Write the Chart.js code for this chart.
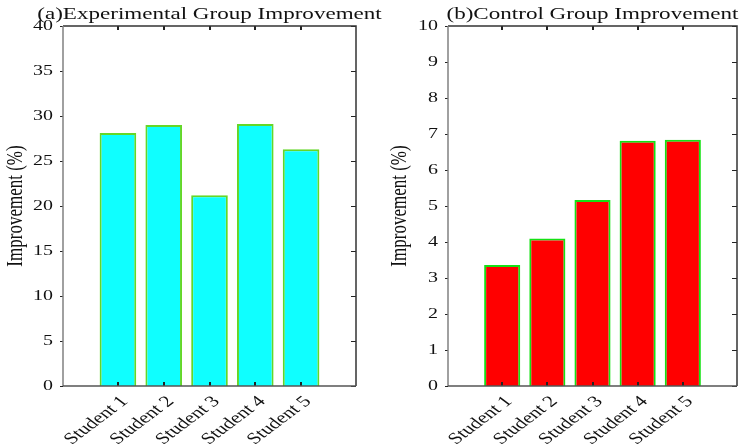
<!DOCTYPE html>
<html>
<head>
<meta charset="utf-8">
<script src="https://cdn.jsdelivr.net/npm/chart.js@4/dist/chart.umd.min.js"></script>
<style>
  html, body { margin: 0; padding: 0; background: #fff; overflow: hidden; width: 739px; height: 447px; }
  canvas { position: absolute; top: 0; }
  #expChart { left: 0; }
  #ctrlChart { left: 370px; }
</style>
</head>
<body>
<canvas id="expChart" width="400" height="447"></canvas>
<canvas id="ctrlChart" width="372" height="447"></canvas>
<script>
// Data
const categories = ['Student 1', 'Student 2', 'Student 3', 'Student 4', 'Student 5'];
const experimentalValues = [28.1, 29.0, 21.2, 29.1, 26.3];
const controlValues = [3.36, 4.1, 5.17, 6.81, 6.84];
const experimentalTitle = '(a)Experimental Group Improvement';
const controlTitle = '(b)Control Group Improvement';
const yAxisTitle = 'Improvement (%)';

const SERIF = '"Liberation Serif", "Times New Roman", serif';
const SX = 1.33; // the reference text is stretched horizontally

// Draws the MATLAB style box, inward ticks and all the text
const panelDecor = {
    id: 'panelDecor',
    afterDraw(chart, args, opts) {
        const ctx = chart.ctx;
        const a = chart.chartArea;
        const xs = chart.scales.x;
        const ys = chart.scales.y;
        ctx.save();

        // ticks along x (top and bottom, pointing inward)
        ctx.strokeStyle = '#222';
        ctx.lineWidth = 2;
        xs.ticks.forEach(t => {
            const px = Math.round(xs.getPixelForValue(t.value));
            ctx.beginPath();
            ctx.moveTo(px, a.bottom); ctx.lineTo(px, a.bottom - 4);
            ctx.moveTo(px, a.top); ctx.lineTo(px, a.top + 4);
            ctx.stroke();
        });
        // ticks along y (right inward, left outward)
        ctx.lineWidth = 1;
        ys.ticks.forEach(t => {
            const py = Math.round(ys.getPixelForValue(t.value)) + 0.5;
            ctx.beginPath();
            ctx.moveTo(a.right, py); ctx.lineTo(a.right - 5, py);
            ctx.moveTo(a.left, py); ctx.lineTo(a.left - 3, py);
            ctx.stroke();
        });

        // box
        ctx.lineWidth = 1.5;
        ctx.strokeStyle = '#333';
        ctx.beginPath();
        ctx.moveTo(a.left, a.top); ctx.lineTo(a.right, a.top); ctx.lineTo(a.right, a.bottom);
        ctx.stroke();
        ctx.strokeStyle = '#808080';
        ctx.beginPath();
        ctx.moveTo(a.left, a.top); ctx.lineTo(a.left, a.bottom);
        ctx.stroke();
        ctx.strokeStyle = '#555';
        ctx.beginPath();
        ctx.moveTo(a.left, a.bottom); ctx.lineTo(a.right, a.bottom);
        ctx.stroke();

        ctx.fillStyle = '#111';

        // y tick labels
        ctx.font = '15px ' + SERIF;
        ctx.textAlign = 'right';
        ctx.textBaseline = 'middle';
        ys.ticks.forEach(t => {
            const py = ys.getPixelForValue(t.value);
            ctx.save();
            ctx.translate(a.left - 10, py);
            ctx.scale(SX, 1);
            ctx.fillText(String(t.value), 0, 0);
            ctx.restore();
        });

        // x tick labels, rotated 45 degrees
        ctx.font = '16px ' + SERIF;
        xs.ticks.forEach(t => {
            const px = xs.getPixelForValue(t.value);
            ctx.save();
            ctx.translate(px + 7, a.bottom + 13);
            ctx.scale(SX, 1);
            ctx.rotate(-Math.PI / 4);
            ctx.textAlign = 'right';
            ctx.textBaseline = 'middle';
            ctx.fillText(categories[t.value - 1], 0, 0);
            ctx.restore();
        });

        // y axis title
        ctx.font = '17px ' + SERIF;
        ctx.save();
        ctx.translate(a.left - opts.yTitleGap, (a.top + a.bottom) / 2);
        ctx.scale(SX, 1);
        ctx.rotate(-Math.PI / 2);
        ctx.textAlign = 'center';
        ctx.textBaseline = 'middle';
        ctx.fillText(yAxisTitle, 0, 0);
        ctx.restore();

        // panel title
        ctx.save();
        ctx.translate((a.left + a.right) / 2, a.top - 7);
        ctx.scale(SX * 1.02, 1);
        ctx.textAlign = 'center';
        ctx.textBaseline = 'alphabetic';
        ctx.fillText(opts.title, 0, 0);
        ctx.restore();

        ctx.restore();
    }
};

function makePanel(canvasId, values, fill, edge, yMax, yStep, yWidth, padRight, title, yTitleGap) {
    const ctx = document.getElementById(canvasId);
    return new Chart(ctx, {
        type: 'bar',
        data: {
            datasets: [{
                data: values.map((v, i) => ({ x: i + 1, y: v })),
                backgroundColor: fill,
                borderColor: edge,
                borderWidth: 2,
                categoryPercentage: 1,
                barPercentage: 0.8
            }]
        },
        options: {
            responsive: false,
            animation: false,
            devicePixelRatio: 1,
            layout: { padding: { top: 26, right: padRight, left: 0, bottom: 0 } },
            scales: {
                x: {
                    type: 'linear',
                    offset: false,
                    min: -0.2,
                    max: 6.2,
                    grid: { display: false },
                    border: { display: false },
                    ticks: { display: false },
                    afterBuildTicks: axis => {
                        axis.ticks = categories.map((c, i) => ({ value: i + 1 }));
                    },
                    afterFit: axis => { axis.height = 61; }
                },
                y: {
                    min: 0,
                    max: yMax,
                    grid: { display: false },
                    border: { display: false },
                    ticks: { display: false, stepSize: yStep },
                    afterFit: axis => { axis.width = yWidth; }
                }
            },
            plugins: {
                legend: { display: false },
                tooltip: { enabled: false },
                panelDecor: { title: title, yTitleGap: yTitleGap }
            }
        },
        plugins: [panelDecor]
    });
}

makePanel('expChart', experimentalValues, '#0fffff', 'rgb(100,215,40)', 40, 5, 63, 44, experimentalTitle, 47);
makePanel('ctrlChart', controlValues, '#ff0000', 'rgb(20,225,20)', 10, 1, 78, 5, controlTitle, 48);
</script>
</body>
</html>
